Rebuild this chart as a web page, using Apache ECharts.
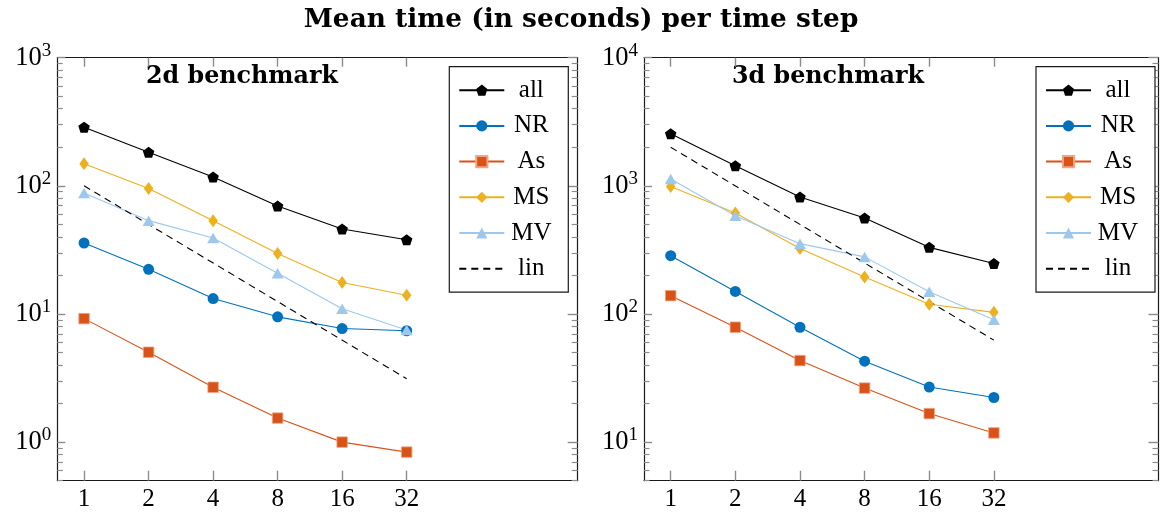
<!DOCTYPE html>
<html>
<head>
<meta charset="utf-8">
<script src="https://cdn.jsdelivr.net/npm/echarts@6/dist/echarts.min.js"></script>
<style>
html,body{margin:0;padding:0;background:#fff;}
#c{width:1161px;height:513px;}
</style>
</head>
<body>
<div id="c"></div>
<script>
// ---- data ----
const nodes = [1, 2, 4, 8, 16, 32];
const seriesNames = ['all', 'NR', 'As', 'MS', 'MV', 'lin'];

const all2d = [287, 183, 117, 69.6, 46, 38];
const nr2d  = [35.8, 22.3, 13.2, 9.5, 7.7, 7.4];
const as2d  = [9.2, 5.03, 2.68, 1.54, 1.0, 0.836];
const ms2d  = [149, 95.5, 53.5, 29.7, 17.6, 14.0];
const mv2d  = [87.9, 53.5, 39.2, 20.8, 11.0, 7.5];
const linX  = [1, 32];
const lin2d = [100, 3.125];

const all3d = [2548, 1435, 818, 561, 331, 248];
const nr3d  = [285, 150, 78.8, 42.8, 26.9, 22.3];
const as3d  = [139, 78.8, 43.3, 26.4, 16.7, 11.8];
const ms3d  = [988, 614, 324, 194, 119, 103];
const mv3d  = [1130, 585, 354, 279, 149, 90];
const lin3d = [2000, 62.5];

// tick labels
const xTickValues = [1, 2, 4, 8, 16, 32];
const yTicks2d = [1, 10, 100, 1000];
const yTicks3d = [10, 100, 1000, 10000];
const yMinor2d = [0.5, 0.6, 0.7, 0.8, 0.9, 2, 3, 4, 5, 6, 7, 8, 9, 20, 30, 40, 50, 60, 70, 80, 90, 200, 300, 400, 500, 600, 700, 800, 900];
const yMinor3d = [5, 6, 7, 8, 9, 20, 30, 40, 50, 60, 70, 80, 90, 200, 300, 400, 500, 600, 700, 800, 900, 2000, 3000, 4000, 5000, 6000, 7000, 8000, 9000];

const title = 'Mean time (in seconds) per time step';
const sub2d = '2d benchmark';
const sub3d = '3d benchmark';

// ---- styling ----
const FONT = "Liberation Serif";
const BFONT = "DejaVu Serif";
const FRAME = '#1a1a1a';
const TICK = '#8c8c8c';
const colors = { all: '#000000', NR: '#0072BD', As: '#D95319', MS: '#EDB120', MV: '#9DC8EE', lin: '#000000' };
const symbols = {
  all: 'path://M0,-10 L9.51,-3.09 L5.88,8.09 L-5.88,8.09 L-9.51,-3.09 Z',
  NR: 'circle', As: 'rect', MS: 'diamond', MV: 'triangle', lin: 'none'
};
const sizes = { all: [11.5, 11], NR: 11, As: 10.5, MS: [9.5, 13], MV: [12, 10.5], lin: 0 };

const grids = [
  { left: 57.3, top: 57.7, width: 520.4, height: 423, xmin: 0.75, xmax: 201, ymin: 0.5, ymax: 1000, yt: yTicks2d, ym: yMinor2d },
  { left: 644, top: 57.7, width: 514.5, height: 423, xmin: 0.751, xmax: 187, ymin: 5, ymax: 10000, yt: yTicks3d, ym: yMinor3d }
];

const L2 = v => Math.log2(v);
const L10 = v => Math.log10(v);

const xAxis = [], yAxis = [];
grids.forEach((g, gi) => {
  // data x axis (log2), hidden
  xAxis.push({ gridIndex: gi, type: 'log', logBase: 2, min: g.xmin, max: g.xmax, show: false });
  // bottom tick/label axis
  xAxis.push({
    gridIndex: gi, type: 'value', position: 'bottom', min: L2(g.xmin), max: L2(g.xmax),
    axisLine: { show: true, onZero: false, lineStyle: { color: FRAME, width: 1.2 } },
    axisTick: { show: true, inside: true, length: 10, customValues: xTickValues.map(L2), lineStyle: { color: TICK, width: 1.4 } },
    axisLabel: { show: true, customValues: xTickValues.map(L2), margin: 6, color: '#000', fontFamily: FONT, fontSize: 25,
      formatter: v => String(Math.round(Math.pow(2, v))) },
    splitLine: { show: false }
  });
  // top tick axis
  xAxis.push({
    gridIndex: gi, type: 'value', position: 'top', min: L2(g.xmin), max: L2(g.xmax),
    axisLine: { show: true, onZero: false, lineStyle: { color: FRAME, width: 1.2 } },
    axisTick: { show: true, inside: true, length: 9, customValues: xTickValues.map(L2), lineStyle: { color: TICK, width: 1.4 } },
    axisLabel: { show: false }, splitLine: { show: false }
  });
  // data y axis (log10), hidden
  yAxis.push({ gridIndex: gi, type: 'log', logBase: 10, min: g.ymin, max: g.ymax, show: false });
  const ylo = L10(g.ymin), yhi = L10(g.ymax);
  // left major
  yAxis.push({
    gridIndex: gi, type: 'value', position: 'left', min: ylo, max: yhi,
    axisLine: { show: true, onZero: false, lineStyle: { color: FRAME, width: 1.2 } },
    axisTick: { show: true, inside: true, length: 8, customValues: g.yt.map(L10), lineStyle: { color: TICK, width: 1.4 } },
    axisLabel: { show: true, customValues: g.yt.map(L10), margin: 6, color: '#000',
      formatter: v => '{b|10}{s|' + Math.round(v) + '}',
      rich: {
        b: { fontFamily: FONT, fontSize: 26.5, color: '#000' },
        s: { fontFamily: FONT, fontSize: 19, color: '#000', padding: [0, 0, 14, 0] }
      } },
    splitLine: { show: false }
  });
  // left minor
  yAxis.push({
    gridIndex: gi, type: 'value', position: 'left', min: ylo, max: yhi,
    axisLine: { show: false, onZero: false },
    axisTick: { show: true, inside: true, length: 5.5, customValues: g.ym.map(L10), lineStyle: { color: TICK, width: 1.2 } },
    axisLabel: { show: false }, splitLine: { show: false }
  });
  // right major
  yAxis.push({
    gridIndex: gi, type: 'value', position: 'right', min: ylo, max: yhi,
    axisLine: { show: true, onZero: false, lineStyle: { color: FRAME, width: 1.2 } },
    axisTick: { show: true, inside: true, length: 10, customValues: g.yt.map(L10), lineStyle: { color: TICK, width: 1.4 } },
    axisLabel: { show: false }, splitLine: { show: false }
  });
  // right minor
  yAxis.push({
    gridIndex: gi, type: 'value', position: 'right', min: ylo, max: yhi,
    axisLine: { show: false, onZero: false },
    axisTick: { show: true, inside: true, length: 6, customValues: g.ym.map(L10), lineStyle: { color: TICK, width: 1.2 } },
    axisLabel: { show: false }, splitLine: { show: false }
  });
});

const dataSets = [
  { all: all2d, NR: nr2d, As: as2d, MS: ms2d, MV: mv2d, lin: lin2d },
  { all: all3d, NR: nr3d, As: as3d, MS: ms3d, MV: mv3d, lin: lin3d }
];

const series = [];
dataSets.forEach((ds, gi) => {
  const xi = gi * 3, yi = gi * 5;
  seriesNames.forEach(name => {
    const isLin = name === 'lin';
    const xs = isLin ? linX : nodes;
    const vals = ds[name];
    series.push({
      type: 'line', name: name, xAxisIndex: xi, yAxisIndex: yi,
      data: xs.map((x, i) => [x, vals[i]]),
      symbol: symbols[name], symbolSize: sizes[name], showSymbol: !isLin,
      color: isLin ? 'rgba(0,0,0,0)' : colors[name],
      itemStyle: isLin ? { color: 'rgba(0,0,0,0)', borderWidth: 0 }
        : (name === 'As' ? { color: colors[name], borderColor: '#EFA585', borderWidth: 0.8 } : { color: colors[name], borderWidth: 0 }),
      lineStyle: { color: colors[name], width: 1.1, type: isLin ? [7, 5] : 'solid' },
      emphasis: { disabled: true },
      animation: false, z: 3
    });
  });
});

const legends = [
  { left: 449.3 },
  { left: 1036 }
].map(p => ({
  left: p.left, top: 66.7, orient: 'vertical',
  data: seriesNames,
  padding: [11, 15, 11, 9],
  itemWidth: 45, itemHeight: 14, itemGap: 10.7,
  borderColor: FRAME, borderWidth: 1.2, backgroundColor: '#fff',
  selectedMode: false,
  formatter: n => '{c|' + n + '}',
  textStyle: { color: '#000', fontFamily: FONT, fontSize: 25,
    rich: { c: { width: 44, align: 'center', fontFamily: FONT, fontSize: 25, lineHeight: 22, color: '#000' } } }
}));

const chart = echarts.init(document.getElementById('c'), null, { renderer: 'canvas' });
chart.setOption({
  animation: false,
  backgroundColor: '#fff',
  grid: grids.map(g => ({ left: g.left, top: g.top, width: g.width, height: g.height, containLabel: false })),
  xAxis: xAxis,
  yAxis: yAxis,
  legend: legends,
  graphic: [
    { type: 'text', x: 581, y: 20, style: { text: title, fill: '#000', font: 'bold 26.4px "' + BFONT + '"', textAlign: 'center', textVerticalAlign: 'middle' } },
    { type: 'text', x: 242, y: 77, style: { text: sub2d, fill: '#000', font: 'bold 23.8px "' + BFONT + '"', textAlign: 'center', textVerticalAlign: 'middle' } },
    { type: 'text', x: 828, y: 77, style: { text: sub3d, fill: '#000', font: 'bold 23.8px "' + BFONT + '"', textAlign: 'center', textVerticalAlign: 'middle' } }
  ],
  series: series
});
</script>
</body>
</html>
